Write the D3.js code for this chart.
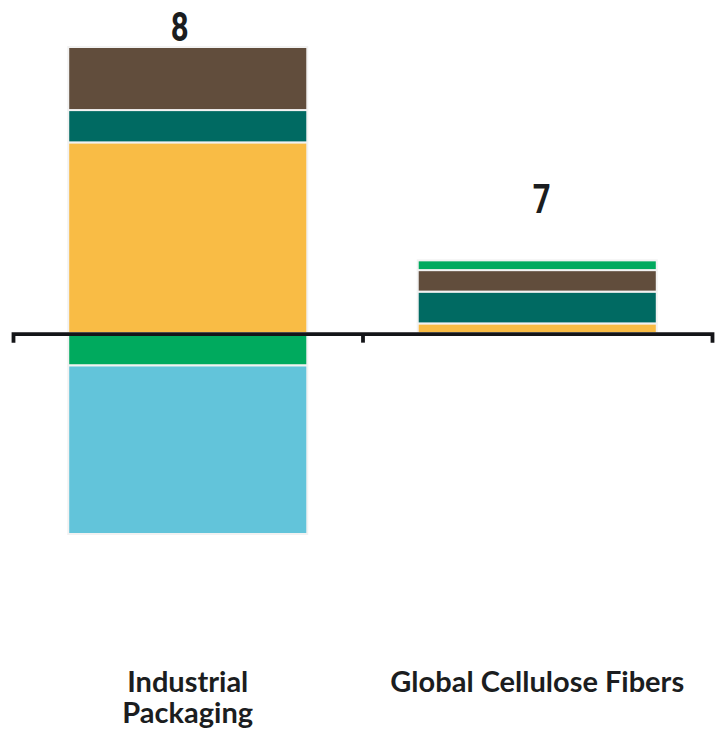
<!DOCTYPE html>
<html>
<head>
<meta charset="utf-8">
<script src="https://cdn.jsdelivr.net/npm/d3@7"></script>
<style>
  html, body { margin: 0; padding: 0; background: #ffffff; }
  svg { display: block; }
</style>
</head>
<body>
<svg id="chart" width="715" height="729"></svg>
<script>
// ---- data ----
const categories = ["Industrial Packaging", "Global Cellulose Fibers"];
const categoryLines = [["Industrial", "Packaging"], ["Global Cellulose Fibers"]];
const seriesNames = ["yellow", "teal", "brown", "green", "blue"];
const yellowValues = [18.0, 0.92];
const tealValues   = [3.05, 3.0];
const brownValues  = [5.95, 2.03];
const greenValues  = [-3.05, 0.92];
const blueValues   = [-15.9, 0];
const totalLabels  = ["8", "7"];

// ---- build table ----
const seriesValues = {yellow: yellowValues, teal: tealValues, brown: brownValues, green: greenValues, blue: blueValues};
const table = categories.map((c, i) => {
  const row = {category: c};
  seriesNames.forEach(s => row[s] = seriesValues[s][i]);
  return row;
});

const colors = {yellow: "#f9bc45", teal: "#006a62", brown: "#614d3c", green: "#00aa5e", blue: "#62c4da"};

const svg = d3.select("#chart");

const x = d3.scaleBand()
  .domain(categories)
  .range([13, 712])
  .paddingInner(0.316)
  .paddingOuter(0.158);

const minNeg = d3.min(table, r => d3.sum(seriesNames, s => Math.min(0, r[s])));
const maxPos = d3.max(table, r => d3.sum(seriesNames, s => Math.max(0, r[s])));
const y = d3.scaleLinear()
  .domain([minNeg, maxPos])
  .range([534, 47]);

const stack = d3.stack()
  .keys(seriesNames)
  .order(d3.stackOrderNone)
  .offset(d3.stackOffsetDiverging);
const stacked = stack(table);

svg.append("g")
  .selectAll("g")
  .data(stacked)
  .join("g")
  .attr("fill", d => colors[d.key])
  .selectAll("rect")
  .data(d => d.filter(p => p[1] !== p[0]))
  .join("rect")
  .attr("x", d => x(d.data.category))
  .attr("width", x.bandwidth())
  .attr("y", d => y(Math.max(d[0], d[1])))
  .attr("height", d => Math.abs(y(d[0]) - y(d[1])))
  .attr("stroke", "#f2f2f2")
  .attr("stroke-width", 2);

// axis: full-width baseline with outer end ticks
const axisScale = d3.scaleLinear().domain([0, 1]).range([13, 712]);
const axis = d3.axisBottom(axisScale)
  .tickValues([0.5])
  .tickSizeInner(9)
  .tickSizeOuter(9)
  .tickFormat("");
const axisG = svg.append("g")
  .attr("transform", `translate(0,${y(0) + 0.5})`)
  .call(axis);
axisG.select(".domain")
  .attr("stroke", "#141518")
  .attr("stroke-width", 3.8)
  .attr("stroke-linejoin", "miter");
axisG.selectAll(".tick line")
  .attr("stroke", "#141518")
  .attr("stroke-width", 3.8)
  .attr("x1", x(categories[1]) - x.step() * x.paddingInner() / 2 - axisScale(0.5))
  .attr("x2", x(categories[1]) - x.step() * x.paddingInner() / 2 - axisScale(0.5));

// total labels (condensed digits)
const labelBaseline = [41, 213];
const labelDx = [-8, 4.5];
const squeeze = 0.78;
svg.append("g")
  .selectAll("text")
  .data(totalLabels)
  .join("text")
  .attr("transform", (d, i) => `translate(${x(categories[i]) + x.bandwidth() / 2 + labelDx[i]},${labelBaseline[i]}) scale(${squeeze},1)`)
  .attr("text-anchor", "middle")
  .attr("font-family", "Roboto, 'Noto Sans', sans-serif")
  .attr("font-weight", "bold")
  .attr("font-size", 40)
  .attr("fill", "#1b1d20")
  .text(d => d);

// category labels
const catG = svg.append("g")
  .selectAll("text")
  .data(categories)
  .join("text")
  .attr("x", d => x(d) + x.bandwidth() / 2)
  .attr("y", 692)
  .attr("text-anchor", "middle")
  .attr("font-family", "Lato, 'Open Sans', sans-serif")
  .attr("font-weight", "bold")
  .attr("font-size", 29)
  .attr("fill", "#1b1d20");
catG.selectAll("tspan")
  .data((d, i) => categoryLines[i].map((t, j) => ({t, j, cx: x(d) + x.bandwidth() / 2})))
  .join("tspan")
  .attr("x", d => d.cx)
  .attr("dy", d => d.j === 0 ? 0 : 31)
  .text(d => d.t);
</script>
</body>
</html>
